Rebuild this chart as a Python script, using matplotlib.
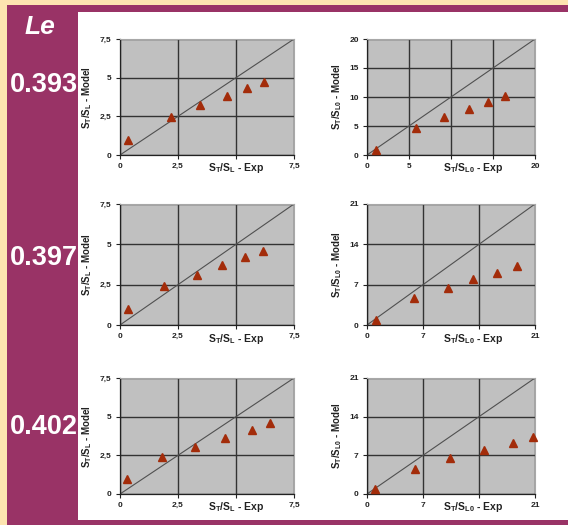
import matplotlib
matplotlib.use("Agg")
import matplotlib.pyplot as plt
from matplotlib.patches import Rectangle

plt.rcParams['font.family'] = ['Liberation Sans', 'DejaVu Sans']
plt.rcParams['mathtext.fontset'] = 'custom'
plt.rcParams['mathtext.rm'] = 'Liberation Sans:bold'
plt.rcParams['mathtext.bf'] = 'Liberation Sans:bold'
plt.rcParams['mathtext.default'] = 'bf'

# Lewis numbers (row labels)
le_values = ['0.393', '0.397', '0.402']

# left column: S_T/S_L, experiment vs model
exp_sl = [
    [0.36, 2.18, 3.45, 4.63, 5.46, 6.21],
    [0.33, 1.91, 3.33, 4.40, 5.37, 6.17],
    [0.29, 1.83, 3.23, 4.51, 5.68, 6.47],
]
model_sl = [
    [1.00, 2.48, 3.23, 3.84, 4.31, 4.74],
    [0.97, 2.42, 3.11, 3.73, 4.21, 4.60],
    [0.95, 2.38, 3.05, 3.65, 4.13, 4.56],
]

# right column: S_T/S_L0, experiment vs model
exp_sl0 = [
    [1.1, 5.8, 9.15, 12.2, 14.35, 16.4],
    [1.1, 5.9, 10.1, 13.3, 16.2, 18.7],
    [1.0, 6.0, 10.4, 14.6, 18.2, 20.8],
]
model_sl0 = [
    [0.9, 4.7, 6.5, 7.9, 9.2, 10.2],
    [0.9, 4.6, 6.4, 7.9, 9.1, 10.2],
    [0.9, 4.5, 6.5, 8.0, 9.2, 10.3],
]

left_ticks = [0, 2.5, 5, 7.5]
left_yticklabels = ['0', '2,5', '5', '7,5']
left_xticklabels = ['0', '2,5', '', '7,5']
right_ticks = [[0, 5, 10, 15, 20], [0, 7, 14, 21], [0, 7, 14, 21]]
right_yticklabels = [['0', '5', '10', '15', '20'], ['0', '7', '14', '21'], ['0', '7', '14', '21']]
right_xticklabels = [['0', '5', '', '', '20'], ['0', '7', '', '21'], ['0', '7', '', '21']]

W, H = 568, 525
PURPLE = '#993366'
YELLOW = '#FDE4B0'
GRAY = '#C0C0C0'
RED = '#A32C0A'

fig = plt.figure(figsize=(W / 100, H / 100), dpi=100)
fig.patch.set_facecolor('white')


def box(x0, y0, x1, y1, color):
    fig.add_artist(Rectangle((x0 / W, 1 - y1 / H), (x1 - x0) / W, (y1 - y0) / H,
                             transform=fig.transFigure, color=color, lw=0, zorder=0))


box(0, 0, W, H, YELLOW)
box(7, 5, W, H, PURPLE)
box(78, 12, W, 520, 'white')


def make_axes(px0, py0, px1, py1):
    return fig.add_axes([px0 / W, 1 - py1 / H, (px1 - px0) / W, (py1 - py0) / H])


def style(ax, ticks, xlabels, ylabels, xlab, ylab, xlab_pos):
    ax.set_facecolor(GRAY)
    ax.set_xlim(ticks[0], ticks[-1])
    ax.set_ylim(ticks[0], ticks[-1])
    ax.set_xticks(ticks)
    ax.set_yticks(ticks)
    ax.set_xticklabels(xlabels)
    ax.set_yticklabels(ylabels)
    ax.tick_params(length=3, width=0.8, labelsize=6, pad=3, colors='#222222')
    for lbl in ax.get_xticklabels() + ax.get_yticklabels():
        lbl.set_fontweight('bold')
    ax.grid(True, color='#333333', lw=1.0)
    ax.set_axisbelow(True)
    for s in ['left', 'bottom']:
        ax.spines[s].set_color('#222222')
        ax.spines[s].set_linewidth(0.9)
    for s in ['top', 'right']:
        ax.spines[s].set_color('#a8a8a8')
        ax.spines[s].set_linewidth(0.8)
    ax.axline((0, 0), slope=1, color='#505050', lw=0.8, zorder=2)
    ax.set_xlabel(xlab, fontsize=7.5, fontweight='bold', color='#222222')
    ax.xaxis.set_label_coords(xlab_pos, -0.055, transform=ax.transAxes)
    ax.xaxis.label.set_va('top')
    ax.set_ylabel(ylab, fontsize=7, fontweight='bold', color='#222222', labelpad=4)


rows = [(39, 155), (204, 325), (378, 494)]
for i, (top, bot) in enumerate(rows):
    axl = make_axes(120, top, 294, bot)
    style(axl, left_ticks, left_xticklabels, left_yticklabels,
          r'S$_{T}$/S$_{L}$ - Exp', r'S$_{T}$/S$_{L}$ - Model', 0.67)
    axl.plot(exp_sl[i], model_sl[i], linestyle='none', marker='^',
             color=RED, markersize=5.5, zorder=3, clip_on=False)

    axr = make_axes(367, top, 535, bot)
    style(axr, right_ticks[i], right_xticklabels[i], right_yticklabels[i],
          r'S$_{T}$/S$_{L0}$ - Exp', r'S$_{T}$/S$_{L0}$ - Model', 0.63)
    axr.plot(exp_sl0[i], model_sl0[i], linestyle='none', marker='^',
             color=RED, markersize=5.5, zorder=3, clip_on=False)

fig.text(40 / W, 1 - 27 / H, 'Le', color='white', fontsize=19, fontweight='bold',
         fontstyle='italic', ha='center', va='center')
for lab, yc in zip(le_values, [85, 258, 427]):
    fig.text(44 / W, 1 - yc / H, lab, color='white', fontsize=19.5, fontweight='bold',
             ha='center', va='center')

fig.savefig('out.png', dpi=100, facecolor=fig.get_facecolor())
